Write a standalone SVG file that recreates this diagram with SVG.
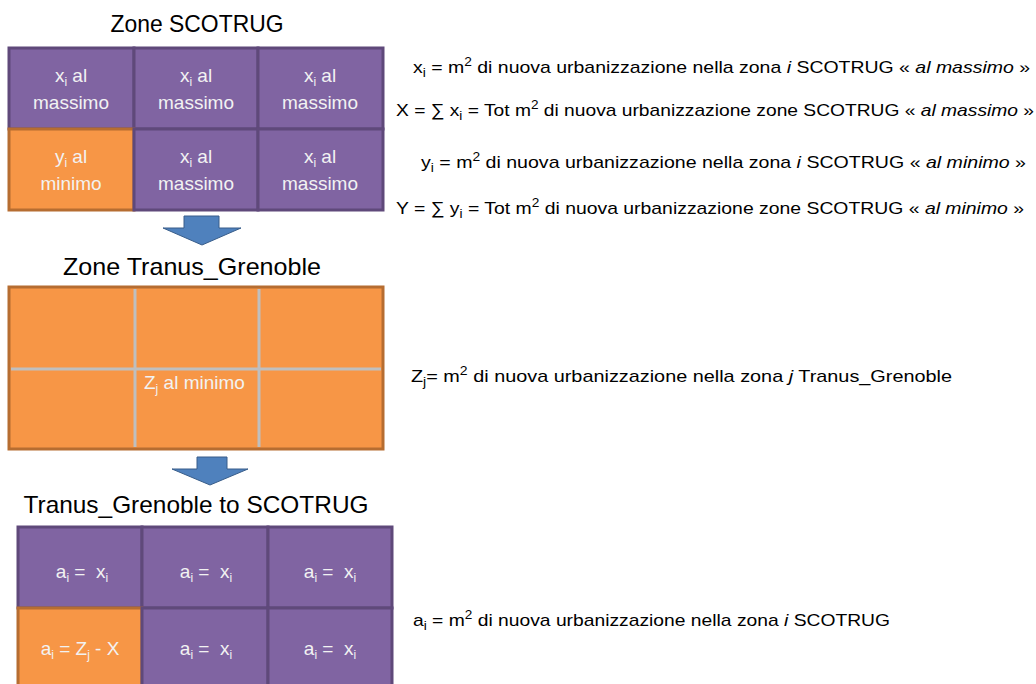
<svg xmlns="http://www.w3.org/2000/svg" width="1036" height="684" viewBox="0 0 1036 684">
<style>
.pur{fill:#8064a2;stroke:#5f497a;stroke-width:3}
.org{fill:#f79646;stroke:#b66d31;stroke-width:3}
.cell{font-family:"Liberation Sans",Arial,sans-serif;font-size:19px;fill:#f2f2f2;text-anchor:middle;white-space:pre}
.ttl{font-family:"Liberation Sans",Arial,sans-serif;font-size:24px;fill:#000;text-anchor:middle}
.note{font-family:"Liberation Sans",Arial,sans-serif;font-size:17px;fill:#000}
.sub{font-size:12px}
.arr{fill:#4f81bd;stroke:#385d8a;stroke-width:1}
.grid{stroke:#bfbfbf;stroke-width:3}
</style>
<rect width="1036" height="684" fill="#fff"/>

<g id="title-scotrug"><text class="ttl" x="197" y="32" textLength="173" lengthAdjust="spacingAndGlyphs">Zone SCOTRUG</text></g>

<g id="grid-scotrug">
<rect class="pur" x="9" y="48" width="125" height="81"/>
<rect class="pur" x="134" y="48" width="124" height="81"/>
<rect class="pur" x="258" y="48" width="125" height="81"/>
<rect class="org" x="9" y="129" width="125" height="81"/>
<rect class="pur" x="134" y="129" width="124" height="81"/>
<rect class="pur" x="258" y="129" width="125" height="81"/>
<text class="cell" x="71" y="82">x<tspan class="sub" dy="4">i</tspan><tspan dy="-4"> al</tspan></text>
<text class="cell" x="71" y="109">massimo</text>
<text class="cell" x="196" y="82">x<tspan class="sub" dy="4">i</tspan><tspan dy="-4"> al</tspan></text>
<text class="cell" x="196" y="109">massimo</text>
<text class="cell" x="320" y="82">x<tspan class="sub" dy="4">i</tspan><tspan dy="-4"> al</tspan></text>
<text class="cell" x="320" y="109">massimo</text>
<text class="cell" x="71" y="163">y<tspan class="sub" dy="4">i</tspan><tspan dy="-4"> al</tspan></text>
<text class="cell" x="71" y="190">minimo</text>
<text class="cell" x="196" y="163">x<tspan class="sub" dy="4">i</tspan><tspan dy="-4"> al</tspan></text>
<text class="cell" x="196" y="190">massimo</text>
<text class="cell" x="320" y="163">x<tspan class="sub" dy="4">i</tspan><tspan dy="-4"> al</tspan></text>
<text class="cell" x="320" y="190">massimo</text>
</g>

<g id="connectors">
<polygon class="arr" points="184,216 219,216 219,228 241,228 202,245 163,228 184,228"/>
<polygon class="arr" points="197,457 227,457 227,469 248,469 210,485 172,469 197,469"/>
</g>

<g id="title-tranus"><text class="ttl" x="192" y="275" textLength="258" lengthAdjust="spacingAndGlyphs">Zone Tranus_Grenoble</text></g>

<g id="grid-tranus">
<rect class="org" x="9" y="287" width="374" height="162"/>
<line class="grid" x1="135" y1="289" x2="135" y2="447"/>
<line class="grid" x1="259" y1="289" x2="259" y2="447"/>
<line class="grid" x1="11" y1="369" x2="381" y2="369"/>
<text class="cell" x="144" y="389" style="text-anchor:start">Z<tspan class="sub" dy="4">j</tspan><tspan dy="-4"> al minimo</tspan></text>
</g>

<g id="title-result"><text class="ttl" x="196" y="513" textLength="345" lengthAdjust="spacingAndGlyphs">Tranus_Grenoble to SCOTRUG</text></g>

<g id="grid-result">
<rect class="pur" x="18" y="527" width="124" height="81"/>
<rect class="pur" x="142" y="527" width="126" height="81"/>
<rect class="pur" x="268" y="527" width="124" height="81"/>
<rect class="org" x="18" y="608" width="124" height="81"/>
<rect class="pur" x="142" y="608" width="126" height="81"/>
<rect class="pur" x="268" y="608" width="124" height="81"/>
<text class="cell" x="82" y="578">a<tspan class="sub" dy="4">i</tspan><tspan dy="-4"> =  x</tspan><tspan class="sub" dy="4">i</tspan></text>
<text class="cell" x="206" y="578">a<tspan class="sub" dy="4">i</tspan><tspan dy="-4"> =  x</tspan><tspan class="sub" dy="4">i</tspan></text>
<text class="cell" x="330" y="578">a<tspan class="sub" dy="4">i</tspan><tspan dy="-4"> =  x</tspan><tspan class="sub" dy="4">i</tspan></text>
<text class="cell" x="80" y="655">a<tspan class="sub" dy="4">i</tspan><tspan dy="-4"> = Z</tspan><tspan class="sub" dy="4">j</tspan><tspan dy="-4"> - X</tspan></text>
<text class="cell" x="206" y="655">a<tspan class="sub" dy="4">i</tspan><tspan dy="-4"> =  x</tspan><tspan class="sub" dy="4">i</tspan></text>
<text class="cell" x="330" y="655">a<tspan class="sub" dy="4">i</tspan><tspan dy="-4"> =  x</tspan><tspan class="sub" dy="4">i</tspan></text>
</g>

<g id="notes">
<text class="note" x="413" y="73" textLength="617" lengthAdjust="spacingAndGlyphs">x<tspan class="sub" dy="4">i</tspan><tspan dy="-4"> = m</tspan><tspan class="sub" dy="-7">2</tspan><tspan dy="7"> di nuova urbanizzazione nella zona </tspan><tspan font-style="italic">i</tspan> SCOTRUG « <tspan font-style="italic">al massimo</tspan> »</text>
<text class="note" x="396" y="116" textLength="638" lengthAdjust="spacingAndGlyphs">X = ∑ x<tspan class="sub" dy="4">i</tspan><tspan dy="-4"> = Tot m</tspan><tspan class="sub" dy="-7">2</tspan><tspan dy="7"> di nuova urbanizzazione zone SCOTRUG « </tspan><tspan font-style="italic">al massimo</tspan> »</text>
<text class="note" x="421" y="168" textLength="605" lengthAdjust="spacingAndGlyphs">y<tspan class="sub" dy="4">i</tspan><tspan dy="-4"> = m</tspan><tspan class="sub" dy="-7">2</tspan><tspan dy="7"> di nuova urbanizzazione nella zona </tspan><tspan font-style="italic">i</tspan> SCOTRUG « <tspan font-style="italic">al minimo</tspan> »</text>
<text class="note" x="396" y="214" textLength="628" lengthAdjust="spacingAndGlyphs">Y = ∑ y<tspan class="sub" dy="4">i</tspan><tspan dy="-4"> = Tot m</tspan><tspan class="sub" dy="-7">2</tspan><tspan dy="7"> di nuova urbanizzazione zone SCOTRUG « </tspan><tspan font-style="italic">al minimo</tspan> »</text>
<text class="note" x="411" y="382" textLength="541" lengthAdjust="spacingAndGlyphs">Z<tspan class="sub" dy="4">j</tspan><tspan dy="-4">= m</tspan><tspan class="sub" dy="-7">2</tspan><tspan dy="7"> di nuova urbanizzazione nella zona </tspan><tspan font-style="italic">j</tspan> Tranus_Grenoble</text>
<text class="note" x="413" y="626" textLength="477" lengthAdjust="spacingAndGlyphs">a<tspan class="sub" dy="4">i</tspan><tspan dy="-4"> = m</tspan><tspan class="sub" dy="-7">2</tspan><tspan dy="7"> di nuova urbanizzazione nella zona </tspan><tspan font-style="italic">i</tspan> SCOTRUG</text>
</g>
</svg>
